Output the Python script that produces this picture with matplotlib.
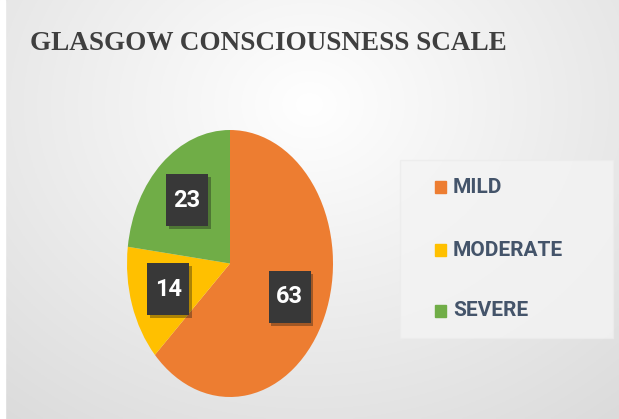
import numpy as np
import matplotlib
matplotlib.use("Agg")
import matplotlib.pyplot as plt
from matplotlib.patches import Rectangle
import matplotlib.patheffects as pe

categories = ["MILD", "MODERATE", "SEVERE"]
values = [63, 14, 23]
colors = ["#ED7D31", "#FFC000", "#70AD47"]
title = "GLASGOW CONSCIOUSNESS SCALE"

W, H = 619, 419
fig = plt.figure(figsize=(W / 100, H / 100), dpi=100)

# background gradient
bg = fig.add_axes([0, 0, 1, 1])
yy, xx = np.mgrid[0:1:200j, 0:1:300j]
d = np.sqrt(((xx - 0.5) / 0.9) ** 2 + ((yy - 0.25) / 1.1) ** 2)
g = np.clip(1.0 - 0.16 * d, 0.85, 1.0)
img = np.dstack([g, g, g])
bg.imshow(img, extent=[0, 1, 0, 1], origin="upper", aspect="auto")
bg.set_xlim(0, 1)
bg.set_ylim(0, 1)
bg.axis("off")
bg.add_patch(Rectangle((0, 0), 5 / W, 1, color="white", transform=bg.transAxes))
# legend panel
bg.add_patch(Rectangle((400 / W, 1 - 338 / H), 213 / W, 178 / H,
                       facecolor="#f4f4f4", edgecolor="#ececec", lw=1,
                       transform=bg.transAxes, alpha=0.8))

fig.text(268 / W, 1 - 44 / H, title, ha="center", va="center",
         fontsize=19.5, fontweight="bold", family="Liberation Serif",
         color="#3f3f3f")

ax = fig.add_axes([127 / W, 22 / H, 206 / W, 267 / H])
wedges, _ = ax.pie(values, colors=colors, startangle=90, counterclock=False,
                   wedgeprops=dict(linewidth=0))
ax.set_aspect("auto")
ax.set_xlim(-1, 1)
ax.set_ylim(-1, 1)

r = 0.63
bw, bh = 42 * 2 / 206, 52 * 2 / 267
for w, v in zip(wedges, values):
    ang = np.deg2rad((w.theta1 + w.theta2) / 2)
    x, y = r * np.cos(ang), r * np.sin(ang)
    box = Rectangle((x - bw / 2, y - bh / 2), bw, bh, facecolor="#383838",
                    edgecolor="none", zorder=3)
    box.set_path_effects([pe.SimplePatchShadow(offset=(2, -2), alpha=0.35), pe.Normal()])
    ax.add_patch(box)
    ax.text(x, y, str(v), ha="center", va="center", color="white",
            fontsize=17, fontweight="bold", family="Roboto", zorder=4)

# legend
leg_y = [187, 250, 311]
for c, lab, yp in zip(colors, categories, leg_y):
    bg.add_patch(Rectangle((435 / W, 1 - (yp + 6) / H), 11 / W, 12 / H,
                           color=c, transform=bg.transAxes))
    fig.text(453 / W, 1 - yp / H, lab, ha="left", va="center", fontsize=15,
             fontweight="bold", family="Roboto", color="#44546A")

fig.savefig("out.png", dpi=100)
